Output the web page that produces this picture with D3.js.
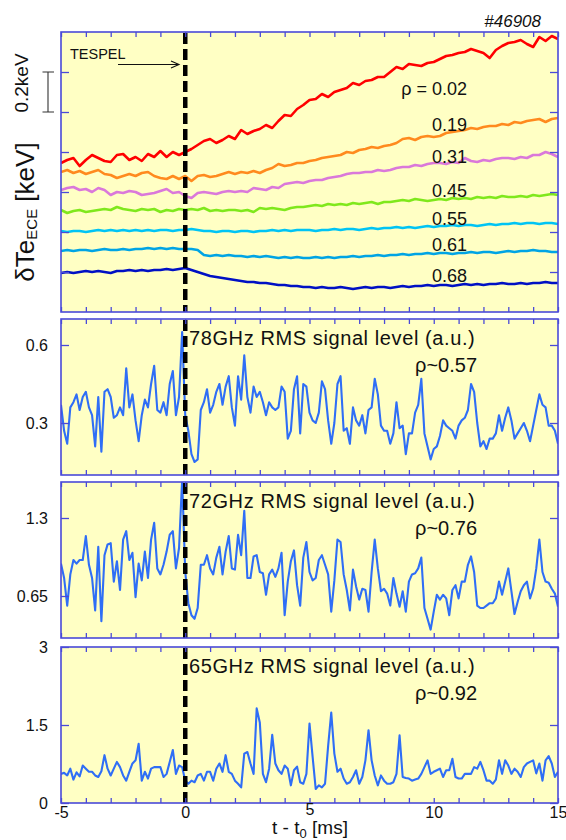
<!DOCTYPE html>
<html>
<head>
<meta charset="utf-8">
<script src="https://cdn.jsdelivr.net/npm/d3@7"></script>
<style>
  body { margin: 0; background: #fff; }
  svg { display: block; }
</style>
</head>
<body>
<div id="chart"></div>
<script>
// Sample times [ms]
var timeTe = d3.range(-5, 15.001, 0.25);
var timeRms = d3.range(-5, 15.001, 0.125);

// ECE electron temperature traces [keV], one per radius
var te002 = [0.745,0.76,0.77,0.73,0.76,0.785,0.77,0.755,0.75,0.785,0.79,0.76,0.775,0.755,0.79,0.775,0.805,0.775,0.80,0.785,0.80,
  0.815,0.835,0.855,0.865,0.845,0.86,0.88,0.865,0.91,0.89,
  0.905,0.915,0.935,0.92,0.955,0.985,0.98,1.015,1.035,1.06,
  1.065,1.09,1.075,1.10,1.11,1.12,1.145,1.135,1.155,1.16,
  1.175,1.175,1.20,1.225,1.215,1.24,1.235,1.23,1.245,1.25,
  1.265,1.28,1.285,1.295,1.30,1.315,1.305,1.295,1.27,1.31,
  1.33,1.345,1.35,1.36,1.34,1.325,1.375,1.355,1.38,1.365];
var te019 = [0.70,0.71,0.695,0.705,0.69,0.70,0.71,0.69,0.685,0.67,0.68,0.69,0.68,0.695,0.70,0.68,0.67,0.665,0.68,0.665,0.68,
  0.655,0.68,0.685,0.675,0.68,0.69,0.70,0.69,0.70,0.695,
  0.705,0.695,0.71,0.72,0.74,0.73,0.735,0.745,0.745,0.755,
  0.76,0.77,0.775,0.78,0.785,0.80,0.795,0.81,0.815,0.825,
  0.82,0.83,0.835,0.845,0.865,0.87,0.86,0.875,0.88,0.875,
  0.88,0.895,0.90,0.905,0.91,0.92,0.915,0.925,0.93,0.93,
  0.94,0.935,0.95,0.945,0.955,0.96,0.965,0.95,0.965,0.97];
var te031 = [0.61,0.62,0.625,0.61,0.615,0.60,0.62,0.61,0.585,0.60,0.595,0.605,0.60,0.585,0.59,0.595,0.605,0.615,0.595,0.60,0.58,
  0.57,0.595,0.60,0.595,0.59,0.60,0.605,0.60,0.605,0.60,
  0.62,0.615,0.61,0.625,0.62,0.64,0.645,0.65,0.645,0.655,
  0.66,0.66,0.67,0.675,0.68,0.69,0.695,0.695,0.70,0.70,
  0.71,0.705,0.71,0.72,0.725,0.725,0.735,0.73,0.74,0.745,
  0.745,0.74,0.75,0.745,0.77,0.755,0.75,0.76,0.755,0.765,
  0.77,0.77,0.765,0.775,0.77,0.785,0.785,0.80,0.79,0.775];
var te045 = [0.51,0.495,0.505,0.51,0.50,0.505,0.51,0.515,0.51,0.525,0.515,0.51,0.505,0.515,0.51,0.515,0.50,0.51,0.505,0.515,0.51,
  0.515,0.51,0.52,0.505,0.51,0.505,0.51,0.51,0.505,0.51,
  0.50,0.52,0.515,0.52,0.515,0.51,0.52,0.525,0.525,0.53,
  0.535,0.53,0.54,0.535,0.54,0.535,0.545,0.54,0.545,0.55,
  0.54,0.55,0.55,0.555,0.56,0.555,0.565,0.56,0.555,0.56,
  0.565,0.56,0.57,0.565,0.57,0.565,0.575,0.57,0.575,0.57,
  0.58,0.575,0.575,0.58,0.575,0.585,0.58,0.585,0.59,0.585];
var te055 = [0.405,0.40,0.405,0.405,0.40,0.405,0.41,0.405,0.41,0.405,0.41,0.405,0.41,0.405,0.41,0.405,0.41,0.41,0.405,0.41,0.41,
  0.415,0.41,0.405,0.405,0.40,0.405,0.405,0.40,0.405,0.405,
  0.40,0.405,0.405,0.41,0.405,0.41,0.405,0.41,0.41,0.41,
  0.405,0.41,0.41,0.415,0.41,0.415,0.415,0.41,0.415,0.42,
  0.415,0.42,0.42,0.425,0.42,0.425,0.42,0.425,0.43,0.425,
  0.43,0.43,0.435,0.43,0.435,0.435,0.43,0.435,0.44,0.435,
  0.44,0.44,0.445,0.44,0.445,0.445,0.44,0.445,0.445,0.44];
var te061 = [0.305,0.31,0.305,0.31,0.31,0.305,0.31,0.315,0.31,0.31,0.315,0.31,0.315,0.315,0.32,0.315,0.32,0.315,0.32,0.315,0.315,
  0.315,0.31,0.285,0.28,0.285,0.28,0.285,0.28,0.28,0.275,
  0.28,0.275,0.28,0.275,0.27,0.275,0.27,0.275,0.27,0.27,
  0.275,0.27,0.275,0.27,0.275,0.275,0.28,0.275,0.28,0.28,
  0.285,0.28,0.285,0.285,0.29,0.285,0.29,0.29,0.295,0.29,
  0.295,0.295,0.29,0.295,0.295,0.30,0.295,0.30,0.30,0.295,
  0.30,0.305,0.30,0.305,0.305,0.31,0.305,0.305,0.30,0.30];
var te068 = [0.195,0.20,0.195,0.20,0.205,0.20,0.205,0.20,0.195,0.205,0.205,0.21,0.205,0.21,0.205,0.21,0.21,0.215,0.21,0.215,0.22,
  0.21,0.20,0.19,0.18,0.175,0.17,0.165,0.16,0.155,0.15,
  0.15,0.145,0.145,0.14,0.135,0.135,0.13,0.13,0.125,0.125,
  0.12,0.125,0.12,0.12,0.125,0.12,0.115,0.12,0.125,0.12,
  0.125,0.125,0.12,0.125,0.13,0.125,0.13,0.13,0.135,0.13,
  0.135,0.135,0.13,0.135,0.14,0.135,0.14,0.135,0.14,0.14,
  0.145,0.14,0.14,0.145,0.14,0.145,0.145,0.15,0.145,0.145];
var teLabels = ['\u03c1 = 0.02', '0.19', '0.31', '0.45', '0.55', '0.61', '0.68'];
var teTicks = [0.2, 0.4, 0.6, 0.8, 1.0, 1.2];

// RMS signal levels (a.u.)
var rms78 = [0.37,0.27,0.22,0.36,0.38,0.41,0.35,0.40,0.42,0.36,
  0.33,0.21,0.40,0.19,0.42,0.43,0.40,0.32,0.33,0.36,
  0.33,0.51,0.36,0.41,0.31,0.23,0.33,0.39,0.36,0.45,
  0.52,0.35,0.34,0.38,0.33,0.45,0.50,0.33,0.40,0.65,
  0.33,0.27,0.18,0.15,0.16,0.35,0.38,0.43,0.34,0.37,
  0.42,0.45,0.37,0.44,0.48,0.36,0.29,0.48,0.39,0.56,
  0.40,0.34,0.44,0.40,0.42,0.38,0.33,0.38,0.36,0.35,
  0.36,0.44,0.42,0.24,0.27,0.43,0.48,0.26,0.45,0.44,
  0.34,0.31,0.30,0.34,0.46,0.43,0.31,0.22,0.30,0.45,
  0.48,0.27,0.28,0.22,0.36,0.31,0.29,0.33,0.26,0.35,
  0.36,0.47,0.41,0.29,0.27,0.27,0.22,0.26,0.38,0.28,
  0.29,0.18,0.26,0.26,0.34,0.37,0.47,0.26,0.21,0.16,
  0.20,0.21,0.25,0.31,0.29,0.28,0.27,0.24,0.29,0.31,
  0.32,0.35,0.45,0.42,0.30,0.21,0.23,0.20,0.24,0.24,
  0.26,0.33,0.27,0.32,0.36,0.31,0.24,0.26,0.28,0.30,
  0.27,0.23,0.29,0.35,0.41,0.37,0.36,0.29,0.29,0.27,0.22];
var rms72 = [0.92,0.80,0.57,0.83,0.95,0.92,0.95,0.95,1.15,0.91,
  0.80,0.53,1.06,0.44,0.99,1.08,1.09,0.77,0.94,0.70,
  1.12,1.19,0.95,1.01,0.64,0.92,0.78,1.02,0.80,1.12,
  1.26,0.88,0.83,0.91,1.02,1.16,1.19,0.88,1.05,1.62,
  0.85,0.59,0.49,0.46,0.55,0.91,0.91,0.99,0.88,0.83,
  0.97,1.06,0.83,1.02,1.15,0.88,0.87,1.16,0.99,1.36,
  0.80,0.80,0.98,0.99,0.85,0.84,0.66,0.83,0.87,0.81,
  0.88,1.01,0.49,0.77,0.94,1.03,0.74,0.57,0.97,1.10,
  0.85,0.78,0.80,0.95,0.99,0.91,0.83,0.52,0.78,1.12,
  1.10,0.83,0.70,0.53,0.87,0.73,0.62,0.71,0.70,0.52,
  0.85,1.12,0.88,0.69,0.71,0.67,0.57,0.80,0.67,0.56,
  0.69,0.52,0.77,0.83,0.84,0.88,0.97,0.55,0.46,0.37,
  0.52,0.66,0.62,0.66,0.63,0.49,0.70,0.74,0.63,0.77,
  0.77,0.91,0.98,0.85,0.57,0.55,0.55,0.57,0.59,0.59,
  0.63,0.77,0.66,0.77,0.88,0.69,0.50,0.60,0.69,0.74,
  0.77,0.63,0.71,0.88,1.12,0.85,0.77,0.76,0.71,0.67,0.56];
var rms65 = [0.56,0.58,0.53,0.66,0.45,0.59,0.51,0.72,0.66,0.60,
  0.60,0.53,0.50,0.61,0.92,0.66,0.53,0.66,0.79,0.69,
  0.53,0.43,0.60,0.76,0.82,1.14,0.43,0.60,0.47,0.66,
  0.69,0.69,0.69,0.50,0.56,0.79,1.02,0.56,0.72,0.69,
  0.43,0.37,0.43,0.40,0.53,0.56,0.43,0.60,0.60,0.43,
  0.66,0.76,0.60,0.92,0.60,0.56,0.43,0.37,0.30,0.95,
  0.98,0.76,0.56,1.82,1.55,0.56,0.40,0.66,1.31,0.76,
  0.63,0.56,0.72,0.66,0.34,0.63,0.70,0.40,0.37,0.56,
  1.53,0.89,0.27,0.34,0.30,0.37,1.10,1.74,0.95,0.60,
  0.66,0.47,0.37,0.40,0.50,0.63,0.37,0.50,0.82,1.40,
  0.82,0.53,0.34,0.53,0.43,0.37,0.37,0.40,0.56,1.30,
  0.50,0.48,0.47,0.43,0.45,0.47,0.56,0.69,0.82,0.56,
  0.60,0.63,0.66,0.50,0.63,0.63,0.85,0.50,0.47,0.47,
  0.56,0.56,0.56,0.69,0.66,0.79,0.63,0.43,0.43,0.37,
  0.45,0.82,0.56,0.82,0.72,0.56,0.66,0.60,0.50,0.69,
  0.76,0.79,0.82,0.57,0.76,0.43,0.82,0.90,0.76,0.50,0.60];
var rmsTitles = ['78GHz RMS signal level (a.u.)', '72GHz RMS signal level (a.u.)', '65GHz RMS signal level (a.u.)'];
var rmsRho = ['\u03c1~0.57', '\u03c1~0.76', '\u03c1~0.92'];
var rmsTicks = [[0.3, 0.6], [0.65, 1.3], [0, 1.5, 3]];
var xTickLabels = [-5, 0, 5, 10, 15];

// Layout / style
var svgWidth = 566;
var svgHeight = 840;
var plotLeft = 61;
var plotRight = 558;
var font = 'Arial, "Liberation Sans", Helvetica, sans-serif';
var bgColor = '#ffffc4';
var frameColor = '#4a4ad8';
var traceColors = ['#ff0000', '#ff8a1e', '#da78da', '#7fe81c', '#00c4f4', '#00a4e4', '#0010c4'];
var rmsColor = '#2f6ef6';

var panelBoxes = [
  {top: 32, bottom: 312},
  {top: 319, bottom: 475},
  {top: 482, bottom: 638},
  {top: 647, bottom: 803}
];
var rmsDomains = [[0.1, 0.7], [0.3, 1.6], [0, 3]];

var svg = d3.select('#chart')
  .append('svg')
  .attr('width', svgWidth)
  .attr('height', svgHeight)
  .style('font-family', font);

var defs = svg.append('defs');

var x = d3.scaleLinear()
  .domain([-5, 15])
  .range([plotLeft, plotRight]);

// background + clipped layer for a panel
function startPanel(i, domain) {
  var box = panelBoxes[i];
  var y = d3.scaleLinear()
    .domain(domain)
    .range([box.bottom, box.top]);
  var g = svg.append('g');
  g.append('rect')
    .attr('x', plotLeft)
    .attr('y', box.top)
    .attr('width', plotRight - plotLeft)
    .attr('height', box.bottom - box.top)
    .attr('fill', bgColor);
  defs.append('clipPath')
    .attr('id', 'clip' + i)
    .append('rect')
    .attr('x', plotLeft)
    .attr('y', box.top)
    .attr('width', plotRight - plotLeft)
    .attr('height', box.bottom - box.top);
  var layer = g.append('g').attr('clip-path', 'url(#clip' + i + ')');
  return {g: g, y: y, layer: layer, box: box};
}

// pellet line, ticks and frame
function finishPanel(p, yTicks, showLabels) {
  p.g.append('line')
    .attr('x1', x(0))
    .attr('x2', x(0))
    .attr('y1', p.box.top + 1)
    .attr('y2', p.box.bottom)
    .attr('stroke', '#000')
    .attr('stroke-width', 4.5)
    .attr('stroke-dasharray', '11,5');

  var minor = d3.range(-5, 16, 1);
  p.g.append('g')
    .attr('transform', `translate(0, ${p.box.bottom})`)
    .call(d3.axisBottom(x).tickValues(minor).tickSize(-5).tickFormat(''));
  p.g.append('g')
    .attr('transform', `translate(0, ${p.box.top})`)
    .call(d3.axisTop(x).tickValues(minor).tickSize(-5).tickFormat(''));

  var leftAxis = d3.axisLeft(p.y)
    .tickValues(yTicks)
    .tickSize(-8)
    .tickPadding(13)
    .tickFormat(showLabels ? (d => d) : '');
  p.g.append('g')
    .attr('transform', `translate(${plotLeft}, 0)`)
    .call(leftAxis);
  p.g.append('g')
    .attr('transform', `translate(${plotRight}, 0)`)
    .call(d3.axisRight(p.y).tickValues(yTicks).tickSize(-8).tickFormat(''));

  p.g.selectAll('.domain').remove();
  p.g.selectAll('.tick line')
    .attr('stroke', frameColor)
    .attr('stroke-width', 1.3);
  p.g.selectAll('g')
    .attr('font-family', font);
  p.g.selectAll('.tick text')
    .attr('fill', '#111')
    .style('font-size', '16px');

  p.g.append('rect')
    .attr('x', plotLeft)
    .attr('y', p.box.top)
    .attr('width', plotRight - plotLeft)
    .attr('height', p.box.bottom - p.box.top)
    .attr('fill', 'none')
    .attr('stroke', frameColor)
    .attr('stroke-width', 1.6);
}

// Panel 1: Te traces
var teTraces = [te002, te019, te031, te045, te055, te061, te068];
var p1 = startPanel(0, [0, 1.4]);
var teLine = d3.line()
  .x((d, i) => x(timeTe[i]))
  .y(d => p1.y(d));

p1.layer.selectAll('.te')
  .data(teTraces)
  .enter()
  .append('path')
  .classed('te', true)
  .attr('d', teLine)
  .attr('fill', 'none')
  .attr('stroke', (d, i) => traceColors[i])
  .attr('stroke-width', 2.6)
  .attr('stroke-linejoin', 'round');

var labelY = [95, 131, 163, 197, 225, 251, 282];
p1.g.selectAll('.rho')
  .data(teLabels)
  .enter()
  .append('text')
  .classed('rho', true)
  .attr('x', 467)
  .attr('y', (d, i) => labelY[i])
  .attr('text-anchor', 'end')
  .attr('font-size', '18px')
  .attr('fill', '#111')
  .text(d => d);

finishPanel(p1, teTicks, false);

// TESPEL arrow
svg.append('text')
  .attr('x', 70)
  .attr('y', 59)
  .attr('font-size', '14.5px')
  .attr('fill', '#111')
  .text('TESPEL');
svg.append('path')
  .attr('d', 'M118,64.5 H179 M171,61 L179,64.5 L171,68')
  .attr('fill', 'none')
  .attr('stroke', '#111')
  .attr('stroke-width', 1.1);

// shot number
svg.append('text')
  .attr('x', 541)
  .attr('y', 27)
  .attr('text-anchor', 'end')
  .attr('font-size', '17px')
  .attr('font-style', 'italic')
  .attr('fill', '#111')
  .text('#46908');

// 0.2 keV scale bar
var barTop = p1.y(1.2), barBot = p1.y(1.0);
svg.append('path')
  .attr('d', `M48,${barTop} V${barBot} M42.5,${barTop} H54 M42.5,${barBot} H54`)
  .attr('fill', 'none')
  .attr('stroke', '#333')
  .attr('stroke-width', 1.1);
svg.append('text')
  .attr('transform', 'translate(28, 83) rotate(-90)')
  .attr('text-anchor', 'middle')
  .attr('font-size', '19px')
  .attr('fill', '#111')
  .text('0.2keV');

// y title
var yTitle = svg.append('text')
  .attr('transform', 'translate(34, 212) rotate(-90)')
  .attr('text-anchor', 'middle')
  .attr('font-size', '26px')
  .attr('fill', '#111');
yTitle.append('tspan').text('\u03b4Te');
yTitle.append('tspan').attr('font-size', '15px').attr('dy', 3).text('ECE');
yTitle.append('tspan').attr('dy', -3).text(' [keV]');

// Panels 2-4: RMS signal levels
var rmsSeries = [rms78, rms72, rms65];
rmsSeries.forEach(function(series, j) {
  var p = startPanel(j + 1, rmsDomains[j]);
  var rmsLine = d3.line()
    .x((d, i) => x(timeRms[i]))
    .y(d => p.y(d));
  p.layer.append('path')
    .datum(series)
    .attr('d', rmsLine)
    .attr('fill', 'none')
    .attr('stroke', rmsColor)
    .attr('stroke-width', 2.1)
    .attr('stroke-linejoin', 'round');
  finishPanel(p, rmsTicks[j], true);

  p.g.append('text')
    .attr('x', 189)
    .attr('y', p.box.top + 26)
    .attr('font-size', '20px')
    .attr('letter-spacing', '0.6px')
    .attr('fill', '#111')
    .text(rmsTitles[j]);
  p.g.append('text')
    .attr('x', 477)
    .attr('y', p.box.top + 53)
    .attr('text-anchor', 'end')
    .attr('font-size', '20px')
    .attr('fill', '#111')
    .text(rmsRho[j]);
});

// x tick labels under the last panel
var xLabelAxis = svg.append('g')
  .attr('transform', `translate(0, ${panelBoxes[3].bottom})`)
  .call(d3.axisBottom(x).tickValues(xTickLabels).tickSize(0).tickPadding(4).tickFormat(d => d));
xLabelAxis.select('.domain').remove();
xLabelAxis.attr('font-family', font);
xLabelAxis.selectAll('text')
  .attr('fill', '#111')
  .style('font-size', '16px');
// the "5" sits a little higher, clear of the title
xLabelAxis.selectAll('.tick')
  .filter(d => d === 5)
  .select('text')
  .attr('y', 1);

// x title
var xTitle = svg.append('text')
  .attr('x', 310)
  .attr('y', 834)
  .attr('text-anchor', 'middle')
  .attr('font-size', '19px')
  .attr('fill', '#111');
xTitle.append('tspan').text('t - t');
xTitle.append('tspan').attr('font-size', '13px').attr('dy', 4).text('0');
xTitle.append('tspan').attr('dy', -4).text(' [ms]');
</script>
</body>
</html>
